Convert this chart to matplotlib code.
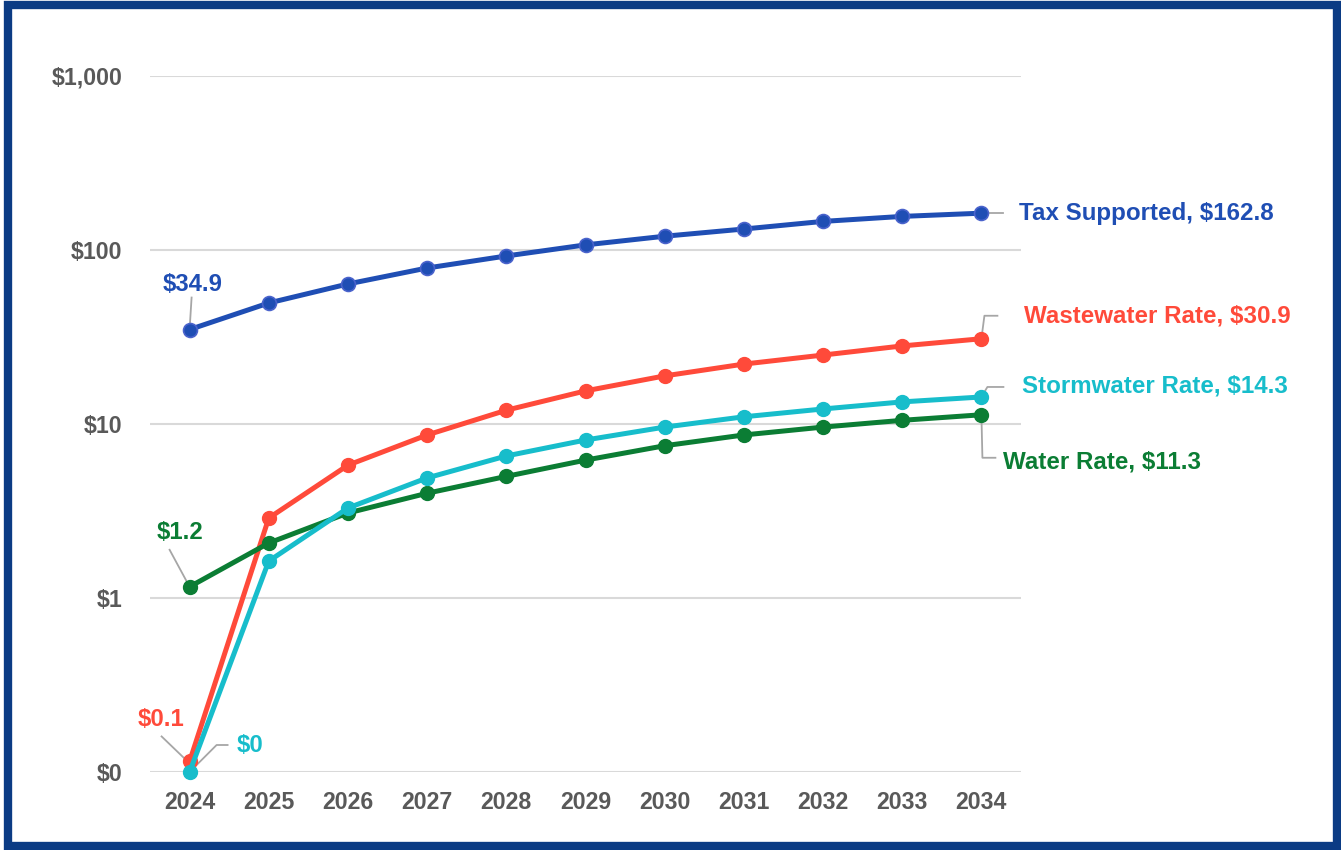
import matplotlib.pyplot as plt
from matplotlib.patches import Rectangle
from matplotlib.ticker import FixedLocator, FixedFormatter

plt.rcParams['font.family'] = ['Liberation Sans', 'DejaVu Sans']
plt.rcParams['font.weight'] = 'bold'

# Data (log scale, $0 shown at the 0.1 floor)
years = ['2024', '2025', '2026', '2027', '2028', '2029', '2030', '2031', '2032', '2033', '2034']
tax_supported = [34.9, 49.6, 63.8, 78.8, 92.4, 107, 120, 132, 146, 156, 162.8]
wastewater = [0.115, 2.88, 5.8, 8.65, 12.0, 15.5, 18.9, 22.1, 24.9, 28.1, 30.9]
stormwater = [0.1, 1.63, 3.29, 4.9, 6.55, 8.09, 9.6, 11.0, 12.2, 13.4, 14.3]
water = [1.16, 2.07, 3.08, 4.0, 5.0, 6.2, 7.5, 8.65, 9.6, 10.5, 11.3]

y_ticks = [0.1, 1, 10, 100, 1000]
y_labels = ['$0', '$1', '$10', '$100', '$1,000']

c_tax = '#1F4EB4'
c_ww = '#FF4A3A'
c_sw = '#17BDCB'
c_wat = '#0B7D34'
c_lead = '#A6A6A6'

fig = plt.figure(figsize=(13.41, 8.5), dpi=100)
ax = fig.add_axes([150 / 1341, 1 - 772 / 850, (1021 - 150) / 1341, (772 - 76) / 850])

x = list(range(len(years)))
ax.plot(x, tax_supported, color=c_tax, lw=3.6, marker='o', ms=10, mfc=c_tax, mec='#4A63CC', mew=1.2, zorder=3)
ax.plot(x, wastewater, color=c_ww, lw=3.6, marker='o', ms=10, zorder=3)
ax.plot(x, water, color=c_wat, lw=3.6, marker='o', ms=10, zorder=3)
ax.plot(x, stormwater, color=c_sw, lw=3.6, marker='o', ms=10, zorder=4, clip_on=False)

ax.set_yscale('log')
ax.set_ylim(0.1, 1000)
ax.set_xlim(-0.5, len(years) - 0.5)
ax.yaxis.set_major_locator(FixedLocator(y_ticks))
ax.yaxis.set_major_formatter(FixedFormatter(y_labels))
ax.yaxis.set_minor_locator(FixedLocator([]))
ax.set_xticks(x)
ax.set_xticklabels(years)
ax.tick_params(axis='both', length=0, labelsize=16.7, labelcolor='#595959')
ax.tick_params(axis='y', pad=20)
ax.tick_params(axis='x', pad=14)
ax.grid(axis='y', color='#D9D9D9', lw=1.5)
ax.set_axisbelow(True)
for s in ax.spines.values():
    s.set_visible(False)


def polyline(xi, yi, pts):
    # leader line as pixel offsets from the data point
    base = ax.transData.transform((xi, yi))
    pix = [(base[0] + dx, base[1] + dy) for dx, dy in pts]
    dpts = ax.transData.inverted().transform(pix)
    ax.plot(dpts[:, 0], dpts[:, 1], color=c_lead, lw=1.3, zorder=2, clip_on=False)


def label(xi, yi, text, dx, dy, color, size, ha='center'):
    ax.annotate(text, xy=(xi, yi), xytext=(dx, dy), textcoords='offset pixels',
                ha=ha, va='center', color=color, fontsize=size, fontweight='bold',
                annotation_clip=False)


fig.canvas.draw()

# start-point labels
polyline(0, tax_supported[0], [(0, 0), (2, 32)])
label(0, tax_supported[0], '$34.9', 3, 45, c_tax, 17.2)
polyline(0, water[0], [(0, 0), (-20, 37)])
label(0, water[0], '$1.2', -10, 54, c_wat, 17.2)
polyline(0, wastewater[0], [(-2, 0), (-28, 25)])
label(0, wastewater[0], '$0.1', -29, 42, c_ww, 17.2)
polyline(0, stormwater[0], [(0, 0), (27, 27), (38, 27)])
label(0, stormwater[0], '$0', 60, 27, c_sw, 17.2)

# end-point labels
n = len(years) - 1
polyline(n, tax_supported[n], [(0, 0), (22, 0)])
label(n, tax_supported[n], 'Tax Supported, $162.8', 38, 0, c_tax, 17.4, ha='left')
polyline(n, wastewater[n], [(0, 0), (3, 23), (16, 23)])
label(n, wastewater[n], 'Wastewater Rate, $30.9', 43, 23, c_ww, 17.4, ha='left')
polyline(n, stormwater[n], [(0, 0), (6, 10), (22, 10)])
label(n, stormwater[n], 'Stormwater Rate, $14.3', 41, 11, c_sw, 17.4, ha='left')
polyline(n, water[n], [(0, 0), (1, -43), (14, -43)])
label(n, water[n], 'Water Rate, $11.3', 22, -47, c_wat, 17.4, ha='left')

# dark blue frame around the whole picture
fig.patches.append(Rectangle((8 / 1341, 4 / 850), 1329 / 1341, 841 / 850, transform=fig.transFigure,
                             fill=False, edgecolor='#0B3B84', lw=6, zorder=10))

fig.savefig('out.png', dpi=100)
